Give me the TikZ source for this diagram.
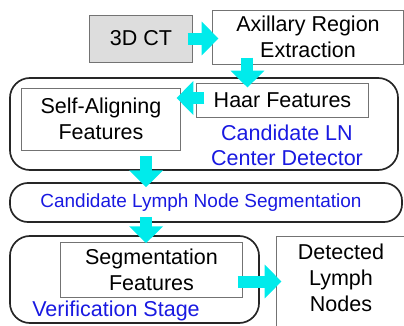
\documentclass[tikz,border=0pt]{standalone}
\usepackage{fontspec}
\setmainfont{Liberation Sans}
\usetikzlibrary{arrows.meta, calc}

\definecolor{lnblue}{RGB}{25,25,225}
\definecolor{lncyan}{RGB}{0,235,235}
\definecolor{ctgray}{RGB}{221,221,221}

\tikzset{
    box/.style={draw=black!55, line width=0.7pt, inner sep=0pt, align=center,
        font=\fontsize{15.3}{18.4}\selectfont},
    stage/.style={draw=black!85, line width=1.2pt, rounded corners=0.5cm, inner sep=0pt},
    bluetext/.style={text=lnblue, align=center, inner sep=0pt,
        font=\fontsize{15.3}{18}\selectfont},
    flow/.style={draw=lncyan, line width=0.3cm,
        -{Triangle[width=0.82cm, length=0.42cm, fill=lncyan]}, shorten <=0pt}
}

\begin{document}
\begin{tikzpicture}[x=0.025cm, y=-0.025cm]
            \useasboundingbox (0,0) rectangle (404,325);
            \node[box, fill=ctgray, minimum width=2.55cm, minimum height=1.175cm] (ct) at (141,38.5) {3D CT};
            \node[box, minimum width=4.75cm, minimum height=1.35cm] (are) at (308,37) {Axillary Region\\Extraction};
            % candidate detector
            \node[stage, minimum width=9.7cm, minimum height=2.3cm] (det) at (204,124) {};
            \node[box, minimum width=4.275cm, minimum height=0.85cm] (haar) at (282.5,100) {Haar Features};
            \node[box, minimum width=3.95cm, minimum height=1.55cm] (self) at (101,119) {Self-Aligning\\Features};
            \node[bluetext] (detlbl) at (287,145) {Candidate LN\\Center Detector};
            % segmentation
            \node[stage, rounded corners=0.45cm, minimum width=9.8cm, minimum height=0.975cm] (seg) at (206,202.5) {};
            \node[bluetext, font=\fontsize{13.5}{16}\selectfont] (seglbl) at (201,203) {Candidate Lymph Node Segmentation};
            % verification
            \node[stage, minimum width=6.225cm, minimum height=2.175cm] (verif) at (134.5,279.5) {};
            \node[box, minimum width=4.525cm, minimum height=1.375cm] (segfeat) at (151.5,269.5) {Segmentation\\Features};
            \node[bluetext, anchor=west] (veriflbl) at (32,311) {Verification Stage};
            \node[box, minimum width=3.325cm, minimum height=2.5cm, anchor=north] (dln) at (343.5,236) {};
            \node[box, draw=none] (dlntxt) at (341,278) {Detected\\Lymph\\Nodes};
            % arrows
            \coordinate (a2) at ($(are.south west)+(35,-7)$);
            \coordinate (a3) at ($(haar.west)+(8,-2)$);
            \coordinate (a4) at ($(det.south west)+(137,-15)$);
            \coordinate (a5) at ($(seg.south west)+(137,-6)$);
            \coordinate (a6) at ($(segfeat.south east)+(-5,-16)$);
            \draw[flow] ($(ct.east)+(-5,0)$) -- ($(ct.east -| are.west)+(6,0)$);
            \draw[flow] (a2) -- ($(a2 |- haar.north)+(0,5)$);
            \draw[flow] (a3) -- ($(a3 -| self.east)+(-4,0)$);
            \draw[flow] (a4) -- ($(a4 |- seg.north)+(0,5)$);
            \draw[flow] (a5) -- ($(a5 |- verif.north)+(0,8)$);
            \draw[flow] (a6) -- ($(a6 -| dln.west)+(5,0)$);
\end{tikzpicture}
\end{document}
